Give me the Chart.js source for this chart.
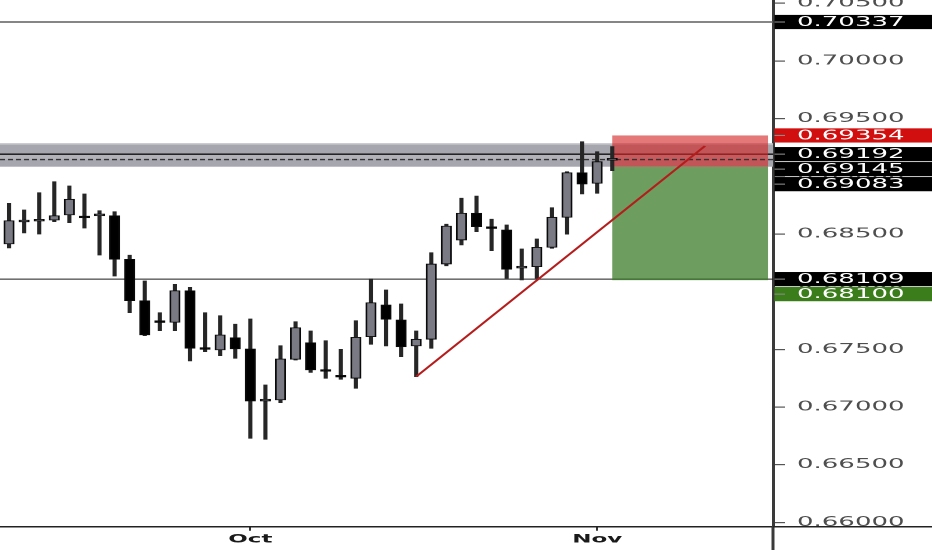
<!DOCTYPE html>
<html>
<head>
<meta charset="utf-8">
<script src="https://cdn.jsdelivr.net/npm/chart.js@4.4.1/dist/chart.umd.min.js"></script>
<style>
html,body{margin:0;padding:0;background:#fff;overflow:hidden;}
#wrap{position:absolute;left:0;top:0;width:466px;height:550px;transform:scaleX(2);transform-origin:0 0;}
canvas{display:block;}
</style>
</head>
<body>
<div id="wrap"><canvas id="c" width="466" height="550"></canvas></div>
<script>
// ---- data (daily candles, index = trading day) ----
const candleIdx = [0,1,2,3,4,5,6,7,8,9,10,11,12,13,14,15,16,17,18,19,20,21,22,23,24,25,26,27,28,29,30,31,32,33,34,35,36,37,38,39,40];
const openP  = [0.68414,0.68605,0.68612,0.68621,0.68665,0.68645,0.68658,0.68659,0.68281,0.67922,0.67738,0.67735,0.68009,0.67505,0.67495,0.67601,0.67504,0.67053,0.67062,0.67414,0.67558,0.67318,0.67268,0.67250,0.67610,0.67885,0.67755,0.67530,0.67588,0.68240,0.68448,0.68680,0.68553,0.68535,0.68205,0.68217,0.68385,0.68645,0.69031,0.68939,0.69140];
const highP  = [0.68766,0.68708,0.68858,0.68953,0.68916,0.68847,0.68702,0.68693,0.68316,0.68093,0.67818,0.68064,0.68038,0.67818,0.67792,0.67718,0.67764,0.67192,0.67532,0.67740,0.67660,0.67575,0.67501,0.67749,0.68110,0.68015,0.67894,0.67660,0.68338,0.68585,0.68810,0.68829,0.68628,0.68578,0.68370,0.68457,0.68728,0.69040,0.69300,0.69213,0.69257];
const lowP   = [0.68379,0.68509,0.68500,0.68607,0.68598,0.68552,0.68318,0.68136,0.67818,0.67619,0.67662,0.67662,0.67400,0.67480,0.67446,0.67423,0.66730,0.66721,0.67038,0.67408,0.67300,0.67250,0.67241,0.67163,0.67544,0.67530,0.67437,0.67264,0.67510,0.68225,0.68405,0.68520,0.68355,0.68116,0.68102,0.68116,0.68376,0.68498,0.68847,0.68853,0.69049];
const closeP = [0.68615,0.68612,0.68618,0.68659,0.68801,0.68640,0.68662,0.68281,0.67922,0.67625,0.67733,0.68009,0.67510,0.67500,0.67625,0.67504,0.67053,0.67062,0.67417,0.67688,0.67322,0.67310,0.67260,0.67605,0.67905,0.67761,0.67523,0.67588,0.68240,0.68569,0.68680,0.68563,0.68547,0.68194,0.68211,0.68385,0.68645,0.69031,0.68933,0.69127,0.69150];

const monthLabels  = ['Oct','Nov'];
const monthTickIdx = [16, 39];
const yTickValues  = [0.660,0.665,0.670,0.675,0.680,0.685,0.690,0.695,0.700,0.705];
const xRange = [-0.6, 50.66];
const yRange = [0.659636, 0.705277];

// drawings
const trendIdx = [27, 46.15];
const trendVal = [0.67264, 0.69263];
const levelLines = [0.70337, 0.68109];
const zoneBounds = [0.69083, 0.69286];
const zoneSolid  = [0.69192];
const zoneDashed = [0.69145];
const positionIdx = [40, 50.33];
const positionVals = [0.69354, 0.69083, 0.68100]; // stop, entry, target

// price tags on the axis
const tagValues = [0.70337, 0.69354, 0.69192, 0.69145, 0.69083, 0.68109, 0.68100];
const tagColors = ['#000000','#d10f0f','#000000','#000000','#000000','#000000','#3a7d1a'];

// ---- plugin for drawing tools & tags ----
const drawings = {
  id: 'drawings',
  beforeDatasetsDraw(chart) {
    const {ctx, chartArea: a, scales: {x, y}} = chart;
    const w = a.right - a.left;
    const hline = (yy, color, lw, dash) => {
      ctx.save();
      ctx.strokeStyle = color; ctx.lineWidth = lw;
      if (dash) ctx.setLineDash(dash);
      ctx.beginPath(); ctx.moveTo(a.left, yy); ctx.lineTo(a.right, yy); ctx.stroke();
      ctx.restore();
    };
    ctx.save();
    ctx.beginPath(); ctx.rect(a.left, a.top, w, a.bottom - a.top); ctx.clip();
    hline(y.getPixelForValue(levelLines[0]), '#5e5e5e', 1.6);
    hline(y.getPixelForValue(levelLines[1]), '#1a1a1a', 1.1);
    // gray zone
    const bt = y.getPixelForValue(zoneBounds[1]);
    const bb = y.getPixelForValue(zoneBounds[0]);
    ctx.fillStyle = '#a6a6ae';
    ctx.fillRect(a.left, bt, w, bb - bt);
    const ys = y.getPixelForValue(zoneSolid[0]);
    const yd = y.getPixelForValue(zoneDashed[0]);
    ctx.fillStyle = '#b2b2b8';
    ctx.fillRect(a.left, ys, w, yd - ys);
    ctx.fillStyle = '#c6c6cc';
    ctx.fillRect(a.left, bt, w, 1.4);
    hline(ys, '#111111', 1.4);
    // position tool
    const px0 = x.getPixelForValue(positionIdx[0]);
    const px1 = x.getPixelForValue(positionIdx[1]);
    const ps = y.getPixelForValue(positionVals[0]);
    const pe = y.getPixelForValue(positionVals[1]);
    const pt = y.getPixelForValue(positionVals[2]);
    ctx.fillStyle = 'rgba(212,35,35,0.62)';
    ctx.fillRect(px0, ps, px1 - px0, pe - ps);
    ctx.fillStyle = 'rgba(55,120,35,0.73)';
    ctx.fillRect(px0, pe, px1 - px0, pt - pe);
    hline(yd, '#333333', 1.3, [2.5, 1.5]);
    ctx.restore();
  },
  afterDraw(chart) {
    const {ctx, chartArea: a, scales: {y}, width, height} = chart;
    ctx.save();
    ctx.strokeStyle = '#3a3a3a'; ctx.lineWidth = 1.5;
    ctx.beginPath(); ctx.moveTo(a.right, a.bottom); ctx.lineTo(a.right, height); ctx.stroke();
    ctx.strokeStyle = '#222222'; ctx.lineWidth = 1.5;
    ctx.beginPath(); ctx.moveTo(a.right, a.bottom); ctx.lineTo(width, a.bottom); ctx.stroke();
    const H = 15;
    const items = tagValues.map((v, i) => ({v, c: tagColors[i], y: y.getPixelForValue(v)}))
                           .sort((p, q) => p.y - q.y);
    for (let i = 1; i < items.length; i++) {
      if (items[i].y < items[i-1].y + H) items[i].y = items[i-1].y + H;
    }
    ctx.font = '13px "DejaVu Sans"';
    ctx.textBaseline = 'middle';
    ctx.textAlign = 'left';
    items.forEach(t => {
      ctx.fillStyle = t.c;
      ctx.fillRect(a.right + 0.75, t.y - H / 2 + 0.4, width - a.right, H - 0.8);
      ctx.strokeStyle = '#8a8a8a'; ctx.lineWidth = 1.1;
      ctx.beginPath(); ctx.moveTo(a.right + 0.75, t.y); ctx.lineTo(a.right + 6, t.y); ctx.stroke();
      ctx.fillStyle = '#ffffff';
      ctx.fillText(t.v.toFixed(5), a.right + 12, t.y + 0.5);
    });
    ctx.restore();
  }
};

const wickData = candleIdx.map((i, k) => ({x: i, y: [lowP[k], highP[k]]}));
const bodyData = candleIdx.map((i, k) => ({x: i, y: [openP[k], closeP[k]]}));
const bodyColors = candleIdx.map((i, k) => closeP[k] >= openP[k] ? '#7a7a84' : '#000000');
const trendData = trendIdx.map((i, k) => ({x: i, y: trendVal[k]}));

new Chart(document.getElementById('c'), {
  type: 'bar',
  data: {
    datasets: [
      {
        type: 'line', data: trendData, borderColor: '#b51d1d', borderWidth: 1.4,
        pointRadius: 0, fill: false, order: 1
      },
      {
        type: 'bar', data: bodyData, backgroundColor: bodyColors, borderColor: '#0a0a0a',
        borderWidth: 0.9, borderSkipped: false, barThickness: 4.9, minBarLength: 1.8,
        grouped: false, order: 2
      },
      {
        type: 'bar', data: wickData, backgroundColor: '#262626', borderWidth: 0,
        barThickness: 1.4, grouped: false, order: 3
      }
    ]
  },
  options: {
    responsive: false,
    devicePixelRatio: 2,
    animation: false,
    events: [],
    layout: {padding: 0, autoPadding: false},
    plugins: {legend: {display: false}, tooltip: {enabled: false}},
    scales: {
      x: {
        type: 'linear', min: xRange[0], max: xRange[1], offset: false,
        afterBuildTicks: s => { s.ticks = monthTickIdx.map(v => ({value: v})); },
        afterFit: s => { s.height = 23.3; s.paddingLeft = 0; s.paddingRight = 0; },
        ticks: {
          callback: (v, i) => monthLabels[i],
          font: {family: 'DejaVu Sans', size: 11.5, weight: 'bold'},
          color: '#1a1a1a', padding: 2, maxRotation: 0, autoSkip: false
        },
        grid: {drawOnChartArea: false, offset: false, tickLength: 4, color: '#333333', lineWidth: 1},
        border: {display: true, color: '#222222', width: 1.5}
      },
      y: {
        type: 'linear', position: 'right', min: yRange[0], max: yRange[1],
        afterBuildTicks: s => { s.ticks = yTickValues.map(v => ({value: v})); },
        afterFit: s => { s.width = 79.5; s.paddingTop = 0; s.paddingBottom = 0; },
        ticks: {
          callback: v => Number(v).toFixed(5),
          font: {family: 'DejaVu Sans', size: 13},
          color: '#4e4e4e', padding: 6, autoSkip: false
        },
        grid: {drawOnChartArea: false, tickLength: 6, color: '#555555', lineWidth: 1.2},
        border: {display: true, color: '#3a3a3a', width: 1.5}
      }
    }
  },
  plugins: [drawings]
});
</script>
</body>
</html>
